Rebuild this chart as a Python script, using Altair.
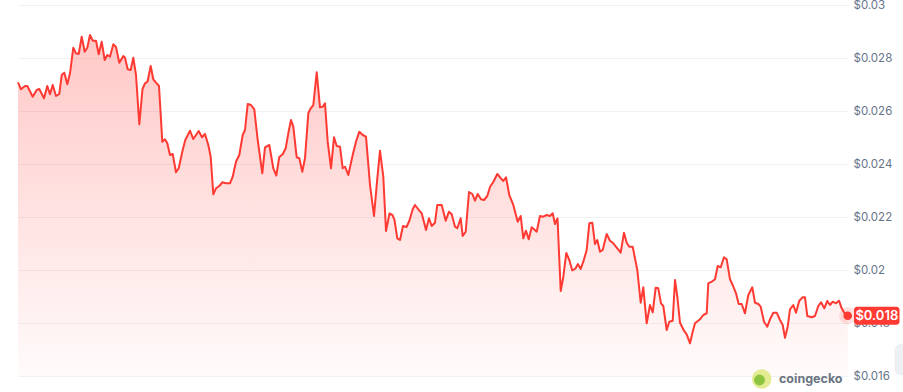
import altair as alt
import pandas as pd

# time index (position along the 7-day window) and price in USD
t = [0, 3, 7, 9.3, 14.7, 18.7, 21.3, 26, 29.3, 32, 34.7, 38, 41.3, 43.7, 46.3, 49.3, 52, 55.3, 58, 60.7,
     63.7, 66.7, 69.3, 72, 74.7, 78, 80.7, 83.7, 86.7, 89.3, 92, 95.3, 98, 101.3, 105.3, 107, 109.7, 112.7, 115.3, 118,
     121.3, 124.5, 127, 129.5, 132.7, 135.3, 138, 141, 144.3, 147, 149.3, 152, 154.7, 158, 160.7, 164.7, 167.3, 172, 175.3, 180.7,
     184, 187, 190.3, 192.7, 195.3, 198, 201.3, 204.3, 208, 212, 214.7, 218, 221.3, 224.7, 227, 229.7, 233, 236.3, 239.7, 244.3,
     247, 251.3, 255.3, 258.3, 261.3, 264.7, 267.7, 270.3, 273, 275.3, 278.7, 281.3, 284.3, 287, 290.3, 292.7, 295.3, 298.7, 302, 304.7,
     307, 309.7, 313, 316, 318.7, 322, 324.7, 327, 330.3, 334.7, 338, 341.3, 344.7, 348, 352, 356, 359.3, 362, 365.3, 368,
     371.5, 374.5, 376.5, 379.3, 382, 385, 388.5, 391.3, 394.7, 397, 401.3, 403.7, 408, 411, 413.7, 417, 419.3, 423.7, 427.7, 431,
     433.7, 437, 439.3, 442.7, 444.7, 447.7, 451, 454.3, 457, 459.7, 463, 466, 469.3, 472, 475.3, 479.3, 483.7, 485.3, 488, 491.3,
     495.3, 499.7, 502.7, 505.3, 508, 510.7, 513.7, 518.7, 522, 525.3, 528.7, 532, 534.7, 537, 539.5, 542.7, 545.3, 548.3, 551.3, 554.3,
     557.5, 559.9, 562.7, 565.3, 568.7, 571.3, 574.3, 577, 579.3, 582, 584.7, 588.7, 592, 595.3, 599.3, 602.7, 606, 608.7, 611.3, 614.7,
     619.3, 622.7, 625.3, 628.7, 632, 634.7, 637.7, 640.3, 643, 645.3, 648.7, 651.3, 654.7, 657, 659.3, 662, 666, 668.7, 672, 674.7,
     677, 682, 685.3, 688.7, 690.3, 693.7, 697, 699.7, 702.7, 706, 708.7, 712, 714.7, 718, 720.7, 723.7, 727, 730.3, 734.3, 737,
     740.3, 742.7, 746, 749.3, 752, 755.3, 758.7, 762, 764.7, 767, 769.7, 772, 775.3, 778, 781.3, 784.7, 787, 789.3, 793.7, 797,
     800.3, 803, 806.3, 809.3, 812, 814.7, 818, 821, 823.7, 827, 829.7]

price = [0.027083, 0.026819, 0.026943, 0.026943, 0.026540, 0.026792, 0.026830, 0.026479, 0.026943, 0.026630,
         0.026981, 0.026566, 0.026642, 0.027358, 0.027445, 0.027008, 0.027423, 0.028389, 0.028177, 0.028151,
         0.028804, 0.028238, 0.028389, 0.028868, 0.028653, 0.028653, 0.028140, 0.028615, 0.027925, 0.028113,
         0.028049, 0.028517, 0.028415, 0.027823, 0.028075, 0.028011, 0.027574, 0.027547, 0.028011, 0.027358,
         0.025498, 0.026830, 0.027045, 0.027106, 0.027698, 0.027196, 0.027068, 0.026943, 0.024842, 0.024932,
         0.024781, 0.024340, 0.024377, 0.023687, 0.023838, 0.024528, 0.024906, 0.025257, 0.024943, 0.025245,
         0.025008, 0.025132, 0.024717, 0.024275, 0.022857, 0.023083, 0.023170, 0.023309, 0.023272, 0.023272,
         0.023521, 0.024087, 0.024340, 0.025094, 0.025283, 0.026264, 0.026226, 0.026064, 0.024906, 0.023649,
         0.024630, 0.024717, 0.023838, 0.023566, 0.024264, 0.024366, 0.024592, 0.025158, 0.025660, 0.025408,
         0.024253, 0.024215, 0.023709, 0.024215, 0.025913, 0.026102, 0.026226, 0.027460, 0.026140, 0.026162,
         0.026291, 0.024842, 0.023838, 0.025008, 0.024679, 0.024653, 0.023838, 0.023898, 0.023585, 0.024340,
         0.024842, 0.025219, 0.025094, 0.025030, 0.023208, 0.022038, 0.023460, 0.024502, 0.023521, 0.021472,
         0.022132, 0.022075, 0.021887, 0.021196, 0.021132, 0.021660, 0.021623, 0.021849, 0.022291, 0.022453,
         0.022238, 0.022140, 0.021509, 0.021951, 0.021660, 0.021785, 0.022453, 0.022453, 0.021860, 0.022200,
         0.022102, 0.021634, 0.021574, 0.021951, 0.021283, 0.021445, 0.022943, 0.022868, 0.022615, 0.022868,
         0.022668, 0.022642, 0.022792, 0.023132, 0.023321, 0.023623, 0.023423, 0.023358, 0.023498, 0.022830,
         0.022453, 0.021823, 0.022038, 0.021196, 0.021483, 0.021158, 0.021611, 0.021445, 0.022038, 0.022011,
         0.022075, 0.022038, 0.022140, 0.021736, 0.021951, 0.019208, 0.019736, 0.020642, 0.020377, 0.019981,
         0.020057, 0.020226, 0.020038, 0.020313, 0.020755, 0.021762, 0.021785, 0.020981, 0.021132, 0.020691,
         0.020755, 0.021358, 0.021106, 0.021008, 0.020819, 0.020653, 0.021408, 0.021030, 0.020879, 0.020879,
         0.020000, 0.018766, 0.019347, 0.017989, 0.018679, 0.018404, 0.019332, 0.019309, 0.018743, 0.018642,
         0.017736, 0.018049, 0.018087, 0.019623, 0.018992, 0.018011, 0.017709, 0.017574, 0.017234, 0.017672,
         0.017989, 0.018140, 0.018302, 0.018366, 0.019498, 0.019558, 0.019649, 0.020151, 0.020102, 0.020479,
         0.020404, 0.019649, 0.019434, 0.019121, 0.018717, 0.018717, 0.018366, 0.019057, 0.019347, 0.018766,
         0.018717, 0.018615, 0.018049, 0.017860, 0.018140, 0.018389, 0.018389, 0.018113, 0.017925, 0.017445,
         0.017860, 0.018517, 0.018679, 0.018389, 0.018842, 0.018970, 0.018970, 0.018264, 0.018215, 0.018264,
         0.018642, 0.018781, 0.018555, 0.018830, 0.018679, 0.018804, 0.018743, 0.018842, 0.018555, 0.018340,
         0.018275]

y_ticks = [0.016, 0.018, 0.020, 0.022, 0.024, 0.026, 0.028, 0.030]
last_label = "$0.018"
brand = "coingecko"

RED = "#ff3a33"
FONT = "Inter"

df = pd.DataFrame({"t": t, "price": price})
last = df.iloc[[-1]].reset_index(drop=True)

xs = alt.Scale(domain=[0, 830], nice=False, zero=False)
ys = alt.Scale(domain=[0.016, 0.030], nice=False, zero=False)

X = alt.X("t:Q", scale=xs, axis=None)
Y = alt.Y(
    "price:Q",
    scale=ys,
    axis=alt.Axis(
        orient="right",
        values=y_ticks,
        labelExpr="'$' + format(datum.value, '~g')",
        grid=True,
        gridColor="#eff2f5",
        gridWidth=1,
        domain=False,
        ticks=False,
        labelPadding=5,
        labelColor="#67758a",
        labelFont=FONT,
        labelFontSize=11.5,
        labelBaseline="middle",
        title=None,
        zindex=0,
    ),
)

area = alt.Chart(df).mark_area(
    color=alt.Gradient(
        gradient="linear", x1=0, y1=0, x2=0, y2=1,
        stops=[
            alt.GradientStop(color="rgba(255,58,51,0.28)", offset=0),
            alt.GradientStop(color="rgba(255,58,51,0.02)", offset=1),
        ],
    )
).encode(x=X, y=Y, y2=alt.datum(0.016))

line = alt.Chart(df).mark_line(color=RED, strokeWidth=2, strokeJoin="round").encode(x=X, y=Y)

halo = alt.Chart(last).mark_circle(color=RED, opacity=0.15, size=300).encode(x=X, y=Y)
dot = alt.Chart(last).mark_circle(color=RED, opacity=1, size=75).encode(x=X, y=Y)

box = alt.Chart(last).mark_rect(color=RED, cornerRadius=3, yOffset=-9, y2Offset=9).encode(
    x=alt.value(836), x2=alt.value(881.5), y=Y, y2="price:Q"
)
box_text = alt.Chart(last).mark_text(
    color="white", font=FONT, fontSize=13, fontWeight=600, baseline="middle", align="center"
).encode(x=alt.value(858.8), y=Y, text=alt.value(last_label))

one = pd.DataFrame({"a": [0]})
side_btn = alt.Chart(one).mark_rect(color="#eef1f4", cornerRadius=6).encode(
    x=alt.value(876.5), x2=alt.value(900), y=alt.value(339), y2=alt.value(370)
)
logo_outer = alt.Chart(one).mark_circle(color="#e4ec93", opacity=1, size=380).encode(
    x=alt.value(743.7), y=alt.value(374)
)
logo_inner = alt.Chart(one).mark_circle(color="#8cc43f", opacity=1, size=120).encode(
    x=alt.value(741.5), y=alt.value(375)
)
logo_text = alt.Chart(one).mark_text(
    color="#6b7380", font=FONT, fontSize=12.5, fontWeight=700, align="left", baseline="middle"
).encode(x=alt.value(761), y=alt.value(373.5), text=alt.value(brand))

chart = alt.layer(
    area, line, halo, dot, box, box_text, side_btn, logo_outer, logo_inner, logo_text
).properties(
    width=830,
    height=371,
    autosize="none",
    padding={"left": 18, "top": 5, "right": 55, "bottom": 16},
    background="white",
).configure_view(stroke=None)

chart.save("out.html", embed_options={"renderer": "svg", "actions": False})
